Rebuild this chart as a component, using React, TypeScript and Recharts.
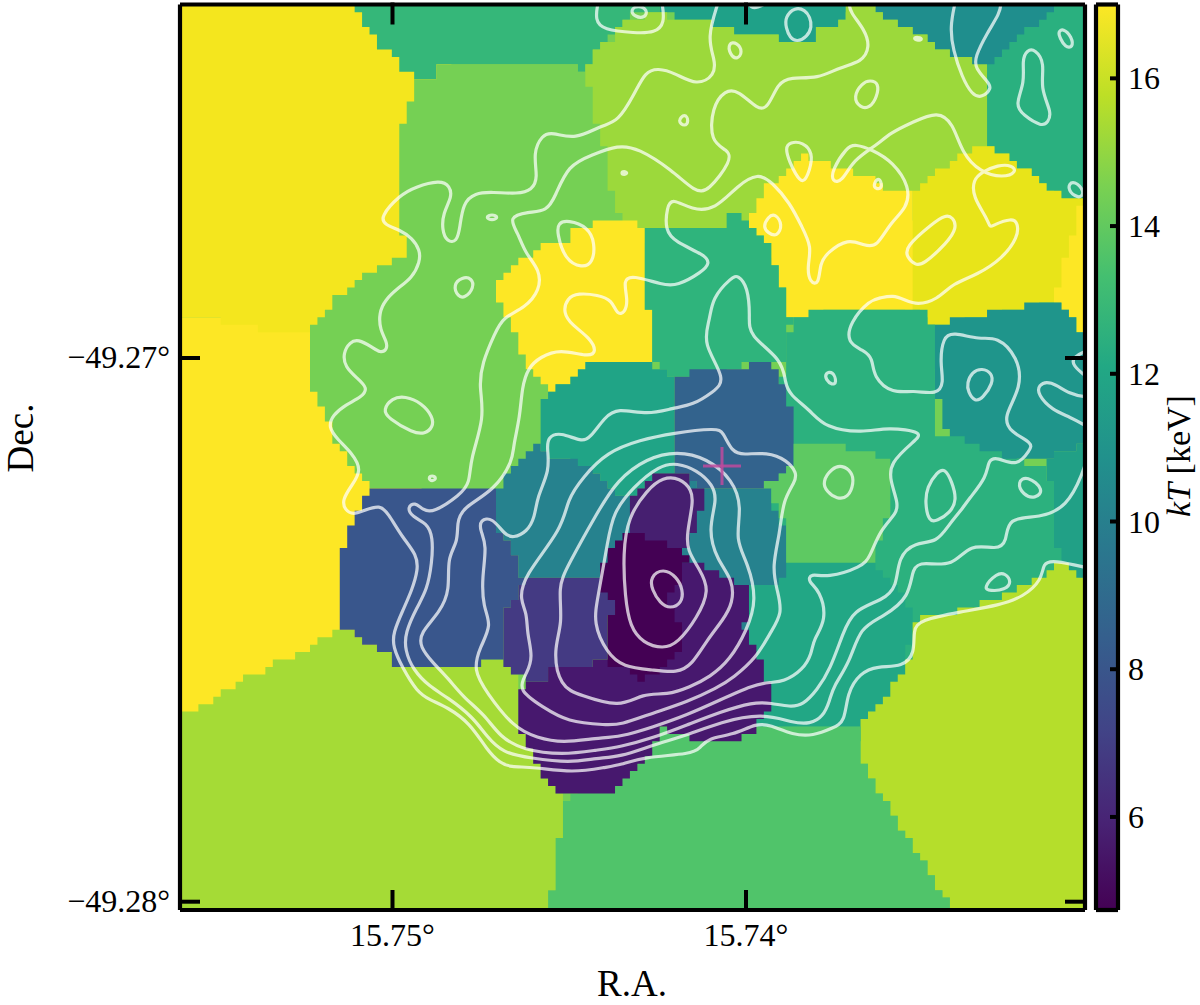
import { Bar, BarChart, Scatter, ScatterChart, XAxis, YAxis } from "recharts";

type Pt = [number, number];

// map positions are image pixels of the binned map, turned into sky degrees by the WCS below
const raAt = (x: number) => 15.75 - (x - 392.5) / 35350;
const decAt = (y: number) => -49.27 - (y - 358) / 54370;

const FONT = "'Liberation Serif', serif";
const CELL = 7.44;
const L = 170, R = 1095, T = -10, B = 920;

const raTicks = [15.75, 15.74];
const decTicks = [-49.27, -49.28];
const kTTicks = [6, 8, 10, 12, 14, 16];
const kTRange = [4.74, 17];
const viridis = ["#FDE725", "#BDDF26", "#7AD151", "#44BF70", "#22A884", "#21918C", "#2A788E", "#355F8D", "#414487", "#482475", "#440154"];

const wholeMap: Pt[] = [[L, T], [R, T], [R, B], [L, B]];
const yellowLower: Pt[] = [[L, 317], [420, 317], [420, 650], [L, 800]];
const yellowUpper: Pt[] = [[L, T], [450, T], [450, 332], [258, 332], [258, 323], [221, 323], [221, 317], [L, 317]];
const topGreen: Pt[] = [[355, T], [658, T], [660, 12], [633, 13], [623, 20], [608, 35], [600, 45], [585, 64], [585, 71], [578, 71], [578, 64], [437, 64], [437, 80], [415, 80], [407, 70], [392, 52], [377, 43], [370, 30], [362, 15], [355, 10]];
const bigGreen: Pt[] = [[415, 80], [437, 80], [437, 64], [578, 64], [578, 71], [640, 71], [640, 240], [560, 400], [541, 398], [541, 445], [525, 450], [510, 465], [497, 480], [497, 488], [370, 488], [370, 480], [355, 470], [347, 458], [340, 442], [332, 428], [325, 413], [318, 392], [310, 392], [310, 325], [318, 318], [332, 303], [340, 292], [355, 281], [370, 272], [392, 258], [407, 258], [407, 235], [400, 235], [400, 125], [407, 125], [407, 100], [415, 100]];
const topTealGreen: Pt[] = [[650, T], [860, T], [845, 12], [835, 22], [816, 28], [808, 45], [795, 43], [770, 36], [745, 35], [725, 25], [697, 20], [660, 12]];
const topTeal: Pt[] = [[867, T], [1060, T], [1060, 40], [1000, 90], [972, 65], [958, 55], [942, 48], [925, 35], [905, 28], [897, 20], [880, 12]];
const topRightGreen: Pt[] = [[1053, T], [R, T], [R, 210], [1068, 205], [1047, 183], [1032, 169], [1008, 154], [987, 146], [987, 65], [1003, 50], [1020, 35], [1040, 18], [1053, 12]];
const limeTop: Pt[] = [[600, 45], [623, 20], [650, 13], [697, 20], [725, 25], [745, 35], [770, 36], [795, 43], [808, 45], [816, 28], [835, 22], [845, 12], [845, T], [867, T], [880, 14], [897, 20], [905, 28], [925, 35], [942, 48], [958, 55], [972, 58], [972, 65], [987, 65], [987, 165], [950, 250], [760, 260], [700, 240], [622, 240], [622, 220], [614, 198], [608, 175], [608, 150], [600, 145], [600, 125], [592, 115], [592, 85], [585, 85], [585, 71]];
const yellowE: Pt[] = [[912, 190], [925, 178], [950, 161], [972, 146], [993, 146], [1008, 154], [1032, 169], [1047, 183], [1068, 198], [R, 205], [R, 300], [1058, 303], [1023, 308], [986, 315], [950, 323], [935, 323], [927, 315], [900, 300]];
const yellowMid: Pt[] = [[795, 162], [800, 155], [808, 155], [808, 162], [830, 162], [830, 170], [850, 170], [850, 175], [872, 175], [872, 182], [885, 182], [885, 190], [912, 190], [912, 309], [823, 309], [823, 316], [790, 316], [787, 300], [778, 272], [770, 250], [765, 235], [748, 222], [756, 206], [763, 190], [770, 182], [785, 170]];
const yellowSliver: Pt[] = [[1075, 205], [R, 205], [R, 332], [1075, 332], [1075, 320], [1068, 307], [1053, 296], [1061, 272], [1068, 243], [1075, 225]];
const yellowCenter: Pt[] = [[593, 220], [637, 220], [644, 228], [644, 310], [652, 310], [652, 362], [623, 362], [623, 369], [593, 370], [593, 378], [570, 378], [556, 385], [556, 392], [548, 392], [541, 380], [533, 375], [527, 360], [518, 340], [511, 323], [503, 305], [496, 300], [496, 281], [510, 265], [527, 257], [541, 243], [571, 243], [571, 228], [593, 228]];
const centerGreen: Pt[] = [[644, 228], [725, 228], [725, 213], [742, 213], [748, 222], [765, 235], [778, 272], [787, 300], [790, 316], [785, 345], [785, 362], [745, 362], [704, 380], [674, 380], [667, 372], [660, 368], [652, 362], [652, 310], [644, 310]];
const rightTealLow: Pt[] = [[1047, 458], [1063, 450], [R, 440], [R, 590], [1040, 590]];
const rightTeal: Pt[] = [[920, 323], [950, 323], [950, 315], [986, 315], [986, 308], [1023, 308], [1023, 303], [1058, 303], [1068, 307], [1075, 320], [1075, 332], [R, 332], [R, 440], [1063, 450], [1047, 458], [960, 470]];
const lowerRightGreen: Pt[] = [[793, 316], [823, 309], [927, 309], [935, 323], [935, 428], [942, 435], [963, 435], [963, 443], [978, 443], [978, 450], [1002, 450], [1002, 458], [1047, 465], [1047, 480], [1053, 480], [1053, 547], [1060, 547], [1060, 570], [1060, 620], [880, 740], [760, 740], [760, 500], [785, 362]];
const lowerTealGreen: Pt[] = [[749, 585], [770, 583], [785, 555], [875, 555], [875, 570], [882, 570], [882, 577], [890, 577], [890, 583], [905, 590], [905, 597], [915, 615], [912, 635], [905, 660], [890, 690], [875, 705], [860, 718], [860, 730], [740, 730], [740, 600]];
const limeRight: Pt[] = [[860, 718], [875, 703], [890, 690], [905, 665], [913, 640], [913, 620], [960, 610], [1008, 591], [1022, 585], [1040, 577], [1053, 570], [1053, 563], [1068, 563], [1068, 572], [R, 578], [R, B], [950, B], [945, 895], [925, 860], [900, 825], [880, 790], [862, 760], [860, 740]];
const greenBottom: Pt[] = [[563, 800], [640, 740], [660, 726], [700, 726], [860, 727], [862, 760], [880, 790], [900, 825], [925, 860], [945, 895], [950, B], [548, B], [555, 860], [560, 830]];
const limeLeft: Pt[] = [[L, 718], [210, 700], [240, 680], [270, 665], [300, 650], [320, 640], [340, 630], [355, 629], [362, 640], [377, 645], [377, 651], [392, 651], [392, 666], [482, 666], [482, 660], [503, 660], [503, 668], [518, 673], [518, 733], [527, 735], [533, 755], [540, 770], [548, 780], [556, 788], [568, 798], [563, 800], [560, 830], [555, 860], [548, B], [L, B]];
const midTealGreen: Pt[] = [[541, 398], [593, 360], [652, 360], [674, 377], [674, 473], [652, 473], [644, 482], [637, 487], [637, 495], [615, 495], [615, 487], [608, 480], [585, 473], [585, 465], [572, 463], [572, 457], [555, 457], [548, 450], [541, 443]];
const midTeal: Pt[] = [[497, 488], [510, 465], [525, 450], [541, 443], [548, 450], [555, 457], [572, 457], [585, 465], [608, 480], [615, 495], [637, 495], [644, 482], [652, 473], [692, 473], [703, 488], [770, 488], [772, 503], [785, 525], [785, 570], [770, 583], [749, 585], [749, 650], [600, 600], [600, 577], [525, 577], [518, 570], [518, 555], [511, 555], [511, 540], [497, 525]];
const steelBlue: Pt[] = [[674, 377], [704, 369], [749, 369], [749, 362], [770, 362], [778, 369], [778, 385], [787, 385], [787, 407], [795, 407], [795, 445], [793, 457], [770, 488], [703, 488], [692, 480], [692, 473], [674, 473]];
const paleGreen: Pt[] = [[793, 445], [845, 443], [845, 450], [875, 450], [875, 458], [890, 458], [890, 518], [882, 518], [882, 538], [875, 538], [875, 562], [785, 562], [785, 525], [780, 503], [772, 503], [772, 488], [765, 482], [778, 473], [787, 465], [793, 457]];
const deepBlue: Pt[] = [[370, 488], [497, 488], [497, 525], [511, 542], [518, 555], [518, 570], [525, 577], [512, 600], [504, 615], [504, 660], [482, 660], [482, 666], [392, 666], [392, 650], [377, 650], [377, 645], [362, 640], [355, 630], [340, 630], [340, 547], [347, 547], [347, 525], [355, 525], [355, 510], [362, 510], [362, 495], [370, 495]];
const indigo: Pt[] = [[525, 577], [600, 577], [608, 590], [614, 600], [614, 615], [608, 615], [608, 658], [592, 660], [578, 667], [548, 670], [548, 680], [527, 680], [518, 673], [511, 668], [503, 660], [503, 615], [512, 600]];
const purple: Pt[] = [[527, 680], [548, 680], [548, 670], [578, 667], [592, 660], [608, 658], [682, 562], [705, 562], [727, 577], [749, 585], [749, 622], [741, 622], [741, 630], [749, 630], [749, 645], [756, 645], [756, 659], [763, 659], [763, 682], [771, 682], [771, 712], [763, 718], [756, 726], [749, 733], [733, 741], [689, 741], [689, 733], [667, 733], [667, 726], [659, 726], [659, 742], [652, 742], [652, 757], [637, 763], [622, 778], [607, 793], [556, 793], [548, 785], [540, 770], [533, 755], [527, 733], [518, 733], [518, 690]];
const upperPurple: Pt[] = [[629, 495], [637, 495], [644, 482], [652, 473], [689, 473], [689, 482], [697, 488], [704, 488], [704, 510], [697, 510], [697, 533], [689, 533], [689, 547], [629, 547]];
const core: Pt[] = [[623, 533], [644, 533], [644, 540], [668, 540], [668, 547], [682, 547], [682, 555], [689, 555], [689, 562], [682, 562], [682, 577], [673, 590], [667, 600], [673, 607], [673, 622], [682, 622], [682, 637], [675, 659], [667, 659], [660, 667], [652, 672], [637, 680], [637, 672], [620, 668], [608, 666], [608, 615], [614, 615], [614, 600], [600, 590], [600, 562], [608, 550], [615, 540]];

const regions: [Pt[], string][] = [
  [wholeMap, "#75D054"],
  [yellowLower, "#FDE725"], [yellowUpper, "#F4E61E"], [topGreen, "#35B779"], [bigGreen, "#75D054"],
  [topTealGreen, "#1FA188"], [topTeal, "#1F8E8D"], [topRightGreen, "#2AB07F"], [limeTop, "#9CD93B"],
  [yellowE, "#E8E419"], [yellowMid, "#FDE725"], [yellowSliver, "#FDE725"], [yellowCenter, "#FDE725"], [centerGreen, "#2FB47C"],
  [rightTealLow, "#21A086"], [rightTeal, "#1F958B"], [lowerRightGreen, "#2CB17E"], [lowerTealGreen, "#22A785"],
  [limeRight, "#B5DE2B"], [greenBottom, "#50C46A"], [limeLeft, "#A5DB36"],
  [midTealGreen, "#20A486"], [midTeal, "#26828E"], [steelBlue, "#33638D"], [paleGreen, "#5EC962"],
  [deepBlue, "#39568C"], [indigo, "#443A83"], [purple, "#47186E"], [upperPurple, "#461F70"], [core, "#440154"],
];

// open contours, they leave through the frame
const levelF: Pt[] = [[718, 3], [707, 38], [715, 60], [715, 75], [697, 86], [675, 73], [658, 68], [645, 72], [635, 93], [618, 122], [602, 125], [575, 140], [552, 132], [542, 135], [533, 153], [538, 178], [532, 190], [518, 194], [492, 192], [475, 193], [463, 203], [460, 227], [457, 242], [447, 242], [442, 230], [443, 213], [452, 197], [450, 186], [440, 180], [415, 187], [400, 195], [380, 217], [385, 225], [400, 230], [412, 238], [420, 250], [420, 262], [412, 278], [398, 288], [385, 300], [379, 313], [380, 330], [387, 342], [387, 350], [380, 353], [372, 347], [358, 339], [350, 342], [343, 353], [345, 367], [357, 378], [368, 388], [362, 397], [345, 405], [333, 415], [328, 427], [338, 440], [352, 453], [362, 470], [352, 485], [342, 500], [345, 510], [353, 515], [365, 510], [380, 505], [388, 513], [402, 537], [417, 555], [418, 570], [412, 590], [403, 610], [393, 633], [393, 647], [402, 667], [417, 692], [430, 700], [447, 707], [470, 723], [487, 750], [500, 763], [510, 767], [533, 767], [573, 773], [607, 767], [620, 765], [643, 757], [692, 754], [700, 748], [708, 738], [733, 735], [757, 723], [770, 725], [793, 735], [813, 736], [833, 728], [845, 722], [847, 693], [860, 673], [877, 666], [903, 667], [915, 653], [913, 630], [920, 620], [960, 612], [1000, 605], [1023, 597], [1042, 580], [1043, 563], [1053, 560], [1088, 568]];
const levelE: Pt[] = [[849, 3], [850, 12], [865, 30], [870, 47], [862, 62], [840, 67], [818, 79], [790, 77], [778, 83], [768, 108], [758, 110], [738, 90], [725, 90], [712, 107], [710, 142], [728, 150], [732, 160], [708, 192], [695, 192], [672, 170], [638, 148], [618, 145], [592, 155], [568, 165], [555, 197], [547, 211], [528, 212], [508, 217], [518, 233], [525, 253], [540, 270], [540, 290], [525, 308], [503, 317], [495, 333], [482, 363], [479, 387], [485, 417], [470, 460], [470, 483], [460, 495], [433, 513], [423, 510], [415, 502], [407, 507], [412, 517], [427, 523], [433, 537], [432, 563], [427, 590], [417, 607], [405, 633], [405, 650], [413, 670], [430, 687], [447, 697], [473, 717], [487, 737], [503, 753], [530, 758], [570, 763], [597, 758], [620, 757], [653, 745], [688, 735], [720, 722], [763, 713], [793, 723], [810, 724], [823, 717], [830, 700], [833, 687], [850, 662], [860, 627], [883, 617], [910, 597], [912, 567], [923, 562], [953, 567], [970, 543], [997, 550], [1007, 542], [1007, 517], [1040, 518], [1067, 507], [1083, 473], [1088, 455]];
const topRightOpen: Pt[] = [[955, 3], [950, 27], [953, 50], [962, 77], [972, 95], [982, 98], [992, 88], [988, 82], [975, 68], [975, 57], [987, 33], [1000, 13], [1001, 3]];
const topArc: Pt[] = [[598, 3], [595, 20], [603, 30], [635, 33], [655, 33], [665, 23], [662, 3]];
const topNotch: Pt[] = [[748, 3], [753, 10], [767, 3]];
const edgeHook: Pt[] = [[1088, 350], [1073, 357], [1072, 365], [1088, 378]];
const edgeTongue: Pt[] = [[1088, 397], [1070, 395], [1050, 380], [1038, 385], [1038, 395], [1052, 410], [1070, 417], [1088, 427]];
const openContours = [levelF, levelE, topRightOpen, topArc, topNotch, edgeHook, edgeTongue];

// closed contours
const levelD: Pt[] = [[897, 587], [898, 557], [915, 542], [937, 543], [950, 523], [963, 508], [968, 500], [987, 477], [988, 460], [997, 457], [1017, 467], [1030, 450], [1033, 443], [1010, 432], [1003, 417], [1022, 387], [1018, 357], [997, 336], [980, 340], [953, 332], [943, 337], [940, 363], [944, 383], [937, 395], [913, 390], [893, 394], [873, 377], [873, 358], [863, 350], [847, 343], [850, 322], [870, 300], [880, 298], [893, 295], [905, 300], [917, 305], [937, 300], [953, 283], [977, 275], [1003, 258], [1018, 237], [1018, 223], [1012, 218], [993, 225], [990, 228], [987, 218], [973, 197], [973, 180], [982, 172], [998, 165], [1012, 165], [1017, 172], [1003, 178], [980, 172], [962, 153], [953, 123], [938, 111], [913, 122], [890, 133], [877, 145], [853, 160], [842, 182], [832, 182], [832, 170], [847, 147], [855, 144], [873, 150], [893, 162], [910, 187], [907, 208], [890, 223], [877, 247], [865, 246], [848, 238], [827, 253], [820, 263], [819, 285], [810, 283], [807, 267], [812, 247], [802, 227], [790, 203], [772, 182], [758, 173], [738, 185], [715, 210], [692, 210], [672, 198], [667, 207], [665, 230], [675, 242], [705, 255], [710, 263], [702, 272], [677, 286], [663, 285], [632, 275], [623, 280], [628, 300], [625, 313], [617, 315], [612, 300], [598, 295], [578, 293], [567, 298], [563, 313], [572, 325], [590, 338], [597, 352], [588, 357], [560, 349], [540, 357], [528, 368], [522, 387], [520, 417], [513, 447], [513, 460], [495, 490], [462, 508], [457, 523], [458, 542], [447, 558], [450, 590], [440, 612], [420, 633], [420, 647], [433, 663], [448, 678], [463, 697], [485, 715], [500, 737], [523, 750], [563, 755], [597, 750], [620, 747], [653, 738], [687, 725], [720, 712], [753, 702], [771, 703], [790, 707], [803, 705], [817, 690], [830, 670], [843, 633], [853, 610], [883, 600]];
const levelC: Pt[] = [[748, 287], [738, 275], [732, 277], [712, 298], [710, 320], [702, 343], [727, 380], [713, 392], [693, 405], [673, 408], [648, 415], [617, 408], [605, 417], [590, 438], [582, 442], [560, 432], [548, 437], [547, 448], [550, 470], [537, 497], [535, 517], [527, 532], [513, 538], [505, 535], [492, 517], [480, 520], [480, 530], [487, 545], [482, 577], [483, 607], [492, 625], [480, 647], [473, 670], [487, 693], [513, 727], [537, 738], [563, 743], [597, 738], [620, 737], [653, 727], [687, 715], [720, 700], [753, 685], [771, 682], [783, 682], [803, 670], [812, 653], [813, 640], [827, 620], [820, 590], [808, 582], [810, 573], [827, 578], [862, 567], [870, 557], [880, 530], [897, 513], [898, 503], [890, 480], [890, 463], [913, 442], [925, 432], [887, 427], [863, 433], [825, 428], [810, 410], [790, 395], [785, 383], [783, 360], [748, 335], [750, 317]];
const levelB: Pt[] = [[520, 600], [523, 577], [563, 528], [567, 500], [583, 477], [607, 452], [640, 440], [673, 433], [717, 428], [723, 432], [732, 452], [743, 455], [767, 452], [787, 460], [797, 473], [795, 482], [783, 500], [780, 533], [772, 567], [777, 590], [783, 613], [770, 633], [757, 657], [733, 678], [717, 688], [687, 702], [653, 713], [620, 725], [607, 725], [567, 722], [543, 707], [517, 690], [527, 673], [533, 657], [527, 633], [527, 613]];
const levelA: Pt[] = [[558, 587], [567, 567], [597, 513], [617, 480], [647, 458], [677, 451], [707, 458], [733, 480], [742, 507], [735, 540], [748, 563], [757, 600], [747, 630], [730, 660], [710, 677], [690, 687], [667, 695], [643, 693], [620, 708], [580, 695], [560, 687], [553, 650], [563, 623]];
const levelI: Pt[] = [[598, 597], [608, 540], [613, 513], [633, 487], [660, 465], [677, 463], [697, 470], [713, 485], [717, 500], [708, 530], [717, 560], [733, 580], [733, 603], [723, 620], [707, 640], [692, 665], [677, 673], [653, 670], [623, 667], [607, 653], [593, 623]];
const levelJ: Pt[] = [[625, 597], [623, 553], [628, 517], [647, 490], [663, 477], [680, 478], [692, 490], [693, 503], [687, 533], [687, 550], [700, 570], [710, 590], [697, 618], [678, 643], [663, 649], [643, 643], [630, 627]];
const peak: Pt[] = [[663, 568], [677, 577], [683, 590], [682, 603], [670, 609], [660, 603], [652, 590], [650, 577]];
const loops: Pt[][] = [
  [[557, 233], [558, 223], [568, 220], [588, 227], [595, 243], [593, 263], [582, 268], [565, 260]],
  [[677, 121], [685, 113], [689, 121], [685, 127]],
  [[728, 43], [737, 42], [743, 52], [737, 60], [730, 55]],
  [[621, 173], [624, 171], [628, 173], [624, 175]],
  [[485, 217], [492, 214], [499, 217], [492, 221]],
  [[630, 10], [638, 5], [648, 10], [645, 18], [635, 17]],
  [[795, 7], [805, 10], [810, 17], [812, 27], [807, 37], [797, 42], [790, 38], [786, 28], [785, 17]],
  [[1058, 32], [1063, 28], [1072, 37], [1073, 48], [1065, 47], [1060, 38]],
  [[1022, 60], [1027, 50], [1035, 49], [1045, 63], [1040, 88], [1052, 113], [1048, 122], [1042, 127], [1023, 115], [1015, 105], [1025, 82]],
  [[853, 97], [862, 83], [870, 80], [879, 83], [877, 97], [870, 108], [860, 108]],
  [[913, 38], [918, 37], [923, 39], [918, 41]],
  [[1067, 188], [1072, 180], [1083, 188], [1083, 197], [1075, 197]],
  [[785, 148], [790, 142], [803, 142], [813, 153], [810, 170], [803, 185], [795, 173], [790, 163]],
  [[872, 188], [877, 178], [881, 180], [882, 190]],
  [[905, 247], [933, 223], [945, 215], [953, 217], [957, 228], [947, 243], [923, 265], [915, 265], [907, 257]],
  [[763, 227], [768, 217], [775, 213], [783, 225], [777, 237], [768, 233]],
  [[383, 410], [392, 398], [405, 396], [422, 403], [433, 417], [433, 427], [425, 434], [413, 433], [388, 418]],
  [[453, 285], [462, 277], [472, 278], [474, 288], [465, 298], [458, 297]],
  [[428, 478], [432, 475], [437, 478], [432, 482]],
  [[825, 373], [833, 371], [837, 383], [832, 385], [826, 380]],
  [[967, 383], [972, 372], [982, 368], [992, 373], [993, 383], [983, 398], [975, 402], [968, 392]],
  [[822, 482], [832, 468], [842, 465], [852, 472], [854, 483], [848, 498], [837, 499], [827, 492]],
  [[927, 487], [937, 472], [945, 468], [952, 482], [957, 500], [950, 513], [937, 521], [929, 522], [925, 503]],
  [[1017, 482], [1027, 475], [1045, 490], [1035, 499], [1023, 495]],
  [[983, 588], [997, 573], [1005, 573], [1012, 582], [1005, 590], [990, 591]],
];
const closedContours = [levelD, levelC, levelB, levelA, levelI, levelJ, peak, ...loops];

const centroid: Pt[] = [[722, 466]];

const toSky = (pts: Pt[]) => pts.map(([x, y]) => ({ ra: raAt(x), dec: decAt(y) }));

// the map is binned, so a region edge is a staircase on the pixel grid
function pixelEdges(poly: Pt[]): Pt[] {
  const snap = (v: number, o: number) => o + Math.round((v - o) / CELL) * CELL;
  const out: Pt[] = [];
  let px = snap(poly[0][0], 310);
  let py = snap(poly[0][1], 228);
  out.push([px, py]);
  poly.forEach((a, i) => {
    const b = poly[(i + 1) % poly.length];
    const n = Math.ceil(Math.max(Math.abs(b[0] - a[0]), Math.abs(b[1] - a[1])) / CELL) || 1;
    for (let k = 1; k <= n; k++) {
      const qx = snap(a[0] + ((b[0] - a[0]) * k) / n, 310);
      const qy = snap(a[1] + ((b[1] - a[1]) * k) / n, 228);
      if (qx === px && qy === py) continue;
      // same corner whichever way a shared edge is walked, so neighbours leave no gap
      if (qx !== px && qy !== py) out.push(qy > py ? [px, qy] : [qx, py]);
      out.push([qx, qy]);
      px = qx;
      py = qy;
    }
  });
  return out;
}

const NoMark = () => <g />;

const CrossMark = ({ cx, cy }: any) => (
  <g stroke="#C04A9E" strokeOpacity={0.85} strokeWidth={3}>
    <line x1={cx - 19} x2={cx + 19} y1={cy} y2={cy} />
    <line x1={cx} x2={cx} y1={cy - 19} y2={cy + 19} />
  </g>
);

const deg = (v: number) => `${v.toFixed(2).replace("-", "\u2212")}\u00b0`;

const BottomTick = ({ x, y, payload }: any) => (
  <g>
    <line x1={x} x2={x} y1={y} y2={y - 22} stroke="#000" strokeWidth={4} />
    <text x={x} y={y + 34} textAnchor="middle" fontFamily={FONT} fontSize={32} fill="#000">{deg(payload.value)}</text>
  </g>
);
const TopTick = ({ x, y }: any) => <line x1={x} x2={x} y1={y} y2={y + 22} stroke="#000" strokeWidth={4} />;
const LeftTick = ({ x, y, payload }: any) => (
  <g>
    <line x1={x} x2={x + 22} y1={y} y2={y} stroke="#000" strokeWidth={4} />
    <text x={x - 8} y={y + 10} textAnchor="end" fontFamily={FONT} fontSize={32} fill="#000">{deg(payload.value)}</text>
  </g>
);
const RightTick = ({ x, y }: any) => <line x1={x} x2={x - 22} y1={y} y2={y} stroke="#000" strokeWidth={4} />;
const BarTick = ({ x, y, payload }: any) => (
  <g>
    <line x1={x} x2={x - 10} y1={y} y2={y} stroke="#000" strokeWidth={4} />
    <text x={x + 8} y={y + 11} fontFamily={FONT} fontSize={32} fill="#000">{payload.value}</text>
  </g>
);

const frame = { stroke: "#000", strokeWidth: 4.2 };
const raDomain = [raAt(1085), raAt(180)];
const decDomain = [decAt(910), decAt(4.5)];
const contourLine = { stroke: "#fff", strokeOpacity: 0.72, strokeWidth: 3.2, fill: "none" };

export default function App() {
  return (
    <div style={{ position: "absolute", left: 0, top: 0, width: 1200, height: 1005, background: "#fff" }}>
      <div style={{ position: "absolute", left: 0, top: 0 }}>
        <ScatterChart width={1200} height={1005} margin={{ top: 3.5, right: 114, bottom: 0, left: 0 }}>
          <XAxis type="number" dataKey="ra" domain={raDomain} reversed allowDataOverflow ticks={raTicks} height={95} tickSize={0} tickLine={false} axisLine={frame} tick={<BottomTick />} interval={0} />
          <XAxis xAxisId="top" orientation="top" type="number" dataKey="ra" domain={raDomain} reversed allowDataOverflow ticks={raTicks} height={1} tickSize={0} tickLine={false} axisLine={frame} tick={<TopTick />} interval={0} />
          <YAxis type="number" dataKey="dec" domain={decDomain} allowDataOverflow ticks={decTicks} width={180} tickSize={0} tickLine={false} axisLine={frame} tick={<LeftTick />} interval={0} />
          <YAxis yAxisId="right" orientation="right" type="number" dataKey="dec" domain={decDomain} allowDataOverflow ticks={decTicks} width={1} tickSize={0} tickLine={false} axisLine={frame} tick={<RightTick />} interval={0} />
          {regions.map(([poly, fill], i) => (
            <Scatter key={`r${i}`} data={toSky(pixelEdges(poly))} line={{ fill, stroke: "none" }} shape={NoMark} legendType="none" isAnimationActive={false} zIndex={100} />
          ))}
          {closedContours.map((pts, i) => (
            <Scatter key={`c${i}`} data={toSky(pts)} line={contourLine} lineJointType="basisClosed" shape={NoMark} legendType="none" isAnimationActive={false} zIndex={110} />
          ))}
          {openContours.map((pts, i) => (
            <Scatter key={`o${i}`} data={toSky(pts)} line={contourLine} lineJointType="basis" shape={NoMark} legendType="none" isAnimationActive={false} zIndex={110} />
          ))}
          <Scatter data={toSky(centroid)} shape={CrossMark} legendType="none" isAnimationActive={false} zIndex={120} />
          <text x={632} y={996} textAnchor="middle" fontFamily={FONT} fontSize={37} fill="#000">R.A.</text>
          <text transform="translate(33 438) rotate(-90)" textAnchor="middle" fontFamily={FONT} fontSize={37} fill="#000">Dec.</text>
        </ScatterChart>
      </div>
      <div style={{ position: "absolute", left: 1086, top: 0 }}>
        <BarChart width={114} height={1005} data={[{ name: "kT", span: kTRange }]} margin={{ top: 3.5, right: 81, bottom: 0, left: 9 }} barCategoryGap={0}>
          <defs>
            <linearGradient id="viridisBar" x1="0" y1="0" x2="0" y2="1">
              {viridis.map((c, i) => <stop key={c} offset={`${i * 10}%`} stopColor={c} />)}
            </linearGradient>
          </defs>
          <XAxis dataKey="name" height={95} tick={false} tickLine={false} axisLine={frame} />
          <XAxis xAxisId="top" orientation="top" dataKey="name" height={1} tick={false} tickLine={false} axisLine={frame} />
          <YAxis orientation="right" type="number" domain={kTRange} allowDataOverflow ticks={kTTicks} width={1} tickSize={0} tickLine={false} axisLine={frame} tick={<BarTick />} interval={0} />
          <YAxis yAxisId="left" orientation="left" type="number" domain={kTRange} width={1} tick={false} tickLine={false} axisLine={frame} />
          <Bar dataKey="span" fill="url(#viridisBar)" isAnimationActive={false} zIndex={100} />
          <text transform="translate(104 456) rotate(-90)" textAnchor="middle" fontFamily={FONT} fontSize={34} fill="#000">
            <tspan fontStyle="italic">kT</tspan> [keV]
          </text>
        </BarChart>
      </div>
    </div>
  );
}
